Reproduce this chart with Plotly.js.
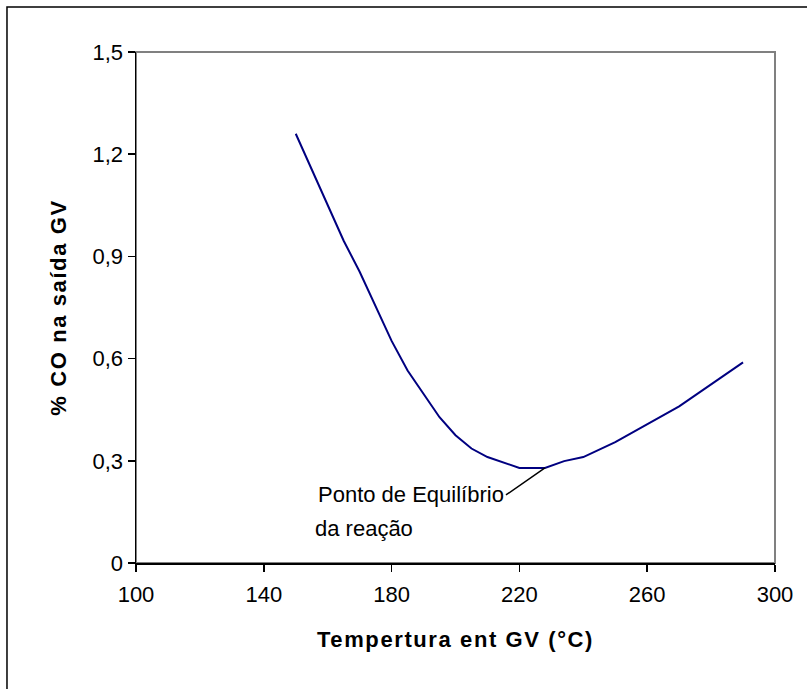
<!DOCTYPE html>
<html>
<head>
<meta charset="utf-8">
<script src="https://cdn.plot.ly/plotly-3.0.1.min.js"></script>
<style>
html,body{margin:0;padding:0;background:#fff;}
#chart{width:807px;height:689px;}
#chart .xtitle, #chart .ytitle{letter-spacing:1.6px;}
</style>
</head>
<body>
<div id="chart"></div>
<script>
var temperatura = [150, 165, 170, 175, 180, 185, 195, 200, 205, 210, 220, 228, 234, 240, 250, 270, 290];
var coSaida = [1.26, 0.946, 0.855, 0.752, 0.652, 0.565, 0.428, 0.375, 0.336, 0.311, 0.279, 0.279, 0.299, 0.311, 0.355, 0.460, 0.589];
var xTicks = [100, 140, 180, 220, 260, 300];
var yTicks = [0, 0.3, 0.6, 0.9, 1.2, 1.5];
var yTickLabels = ['0', '0,3', '0,6', '0,9', '1,2', '1,5'];
var equilibrioX = 228, equilibrioY = 0.279;

var font = 'Liberation Sans, Arial, sans-serif';
var trace = {
  x: temperatura, y: coSaida, type: 'scatter', mode: 'lines',
  line: {color: '#000080', width: 2}, hoverinfo: 'skip'
};
var layout = {
  width: 807, height: 689,
  margin: {l: 136, r: 32, t: 52, b: 126},
  paper_bgcolor: '#ffffff', plot_bgcolor: '#ffffff',
  showlegend: false,
  font: {family: font, size: 22, color: '#000'},
  xaxis: {
    range: [100, 300], tickvals: xTicks, ticktext: xTicks.map(String),
    showgrid: false, zeroline: false, showline: true, linecolor: '#000', linewidth: 1.5,
    ticks: 'outside', ticklen: 7, tickcolor: '#000', tickwidth: 1.5, ticklabelstandoff: 4,
    tickfont: {family: font, size: 22, color: '#000'},
    title: {text: 'Tempertura ent GV (°C)', font: {family: font, size: 22, color: '#000', weight: 'bold'}, standoff: 25},
    automargin: false
  },
  yaxis: {
    range: [0, 1.5], tickvals: yTicks, ticktext: yTickLabels,
    showgrid: false, zeroline: false, showline: true, linecolor: '#000', linewidth: 1.5,
    ticks: 'outside', ticklen: 7, tickcolor: '#000', tickwidth: 1.5,
    tickfont: {family: font, size: 22, color: '#000'},
    title: {text: '% CO na saída GV', font: {family: font, size: 22, color: '#000', weight: 'bold'}, standoff: 20},
    automargin: false
  },
  shapes: [
    {type: 'rect', xref: 'paper', yref: 'paper', x0: 0, x1: 1, y0: 0, y1: 1,
     line: {color: '#808080', width: 2}, layer: 'below'},
    {type: 'rect', xref: 'paper', yref: 'paper', x0: -0.2019, x1: 1.3, y0: -0.5, y1: 1.088,
     line: {color: '#000', width: 1.5}, layer: 'below'}
  ],
  annotations: [
    {x: equilibrioX, y: equilibrioY, xref: 'x', yref: 'y', text: 'Ponto de Equilíbrio',
     showarrow: true, arrowhead: 0, arrowwidth: 1.5, arrowcolor: '#000', ax: -39, ay: 27,
     xanchor: 'right', yanchor: 'middle', font: {family: font, size: 22, color: '#000'}},
    {x: 155.4, y: 0.1025, xref: 'x', yref: 'y', text: 'da reação', showarrow: false,
     xanchor: 'left', yanchor: 'middle', font: {family: font, size: 22, color: '#000'}}
  ]
};
Plotly.newPlot('chart', [trace], layout, {displayModeBar: false, staticPlot: true});
</script>
</body>
</html>
